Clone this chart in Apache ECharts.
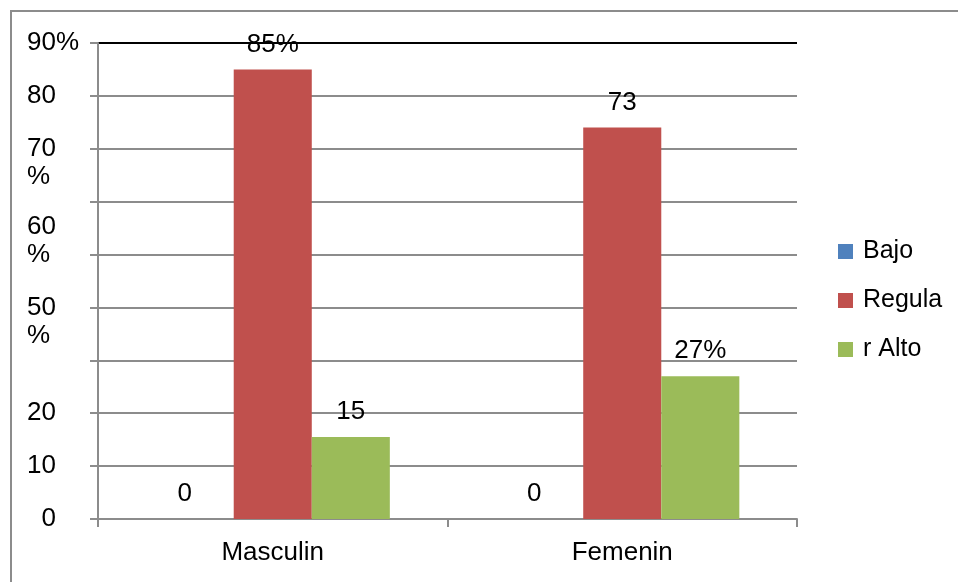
<!DOCTYPE html>
<html lang="es">
<head>
  <meta charset="UTF-8">
  <title>Masculin / Femenin</title>
  <script src="https://cdn.jsdelivr.net/npm/echarts@6/dist/echarts.min.js"></script>
  <style>
    html, body { margin: 0; padding: 0; background: #fff; overflow: hidden; }
    .frame {
      position: absolute; left: 10px; top: 10px;
      width: 1200px; height: 800px;
      border-left: 2px solid #8c8c8c;
      border-top: 2px solid #8c8c8c;
    }
    #chart { position: absolute; left: 0; top: 0; width: 958px; height: 582px; }
  </style>
</head>
<body>
  <div class="frame"></div>
  <div id="chart"></div>
</body>
</html>
<script>
  // datos
  var categories = ['Masculin', 'Femenin']
  var seriesNames = ['Bajo', 'Regula', 'r Alto']
  var bajo = [0, 0]
  var regula = [85, 74]
  var alto = [15.5, 27]
  // etiquetas tal como aparecen en el gráfico
  var bajoLabels = ['0', '0']
  var regulaLabels = ['85%', '73']
  var altoLabels = ['15', '27%']
  var yTickLabels = {
    0: '  0', 10: '10', 20: '20', 30: '', 40: '\n50\n%',
    50: '60\n%\n', 60: '', 70: '\n70\n%', 80: '80', 90: '90%'
  }

  var font = 'Liberation Sans, Arial, sans-serif'
  var chart = echarts.init(document.getElementById('chart'))

  function valueLabel(labels, extra) {
    return Object.assign({
      show: true,
      position: 'top',
      distance: 12,
      color: '#000',
      fontSize: 26,
      fontFamily: font,
      formatter: function (p) { return labels[p.dataIndex] }
    }, extra || {})
  }

  var gridGray = '#8c8c8c'
  var splitColors = []
  for (var i = 0; i < 9; i++) splitColors.push(gridGray)
  splitColors.push('#000')

  chart.setOption({
    animation: false,
    color: ['#4F81BD', '#C0504D', '#9BBB59'],
    grid: { left: 98, right: 161, top: 43, bottom: 63 },
    legend: {
      orient: 'vertical',
      left: 833,
      top: 234,
      itemWidth: 15,
      itemHeight: 15,
      itemGap: 24,
      icon: 'rect',
      textStyle: { fontSize: 25, fontFamily: font, color: '#000', padding: [0, 0, 0, 5] },
      data: seriesNames
    },
    xAxis: {
      type: 'category',
      data: categories,
      axisLine: { lineStyle: { color: gridGray, width: 2 } },
      axisTick: { show: true, length: 8, lineStyle: { color: gridGray, width: 2 } },
      axisLabel: { color: '#000', fontSize: 26, fontFamily: font, margin: 21 }
    },
    yAxis: {
      type: 'value',
      min: 0,
      max: 90,
      interval: 10,
      axisLine: { show: true, lineStyle: { color: gridGray, width: 2 } },
      axisTick: { show: true, length: 8, lineStyle: { color: gridGray, width: 2 } },
      splitLine: { show: true, lineStyle: { color: splitColors, width: 2 } },
      axisLabel: {
        color: '#000', fontSize: 26, fontFamily: font,
        align: 'left', margin: 71, lineHeight: 28,
        formatter: function (v) { return yTickLabels[v] }
      }
    },
    series: [
      {
        name: seriesNames[0], type: 'bar', data: bajo,
        barGap: 0, barCategoryGap: '33%',
        label: valueLabel(bajoLabels, { offset: [-10, 0] })
      },
      {
        name: seriesNames[1], type: 'bar', data: regula,
        barGap: 0, barCategoryGap: '33%',
        label: valueLabel(regulaLabels)
      },
      {
        name: seriesNames[2], type: 'bar', data: alto,
        barGap: 0, barCategoryGap: '33%',
        label: valueLabel(altoLabels)
      }
    ]
  })
</script>
